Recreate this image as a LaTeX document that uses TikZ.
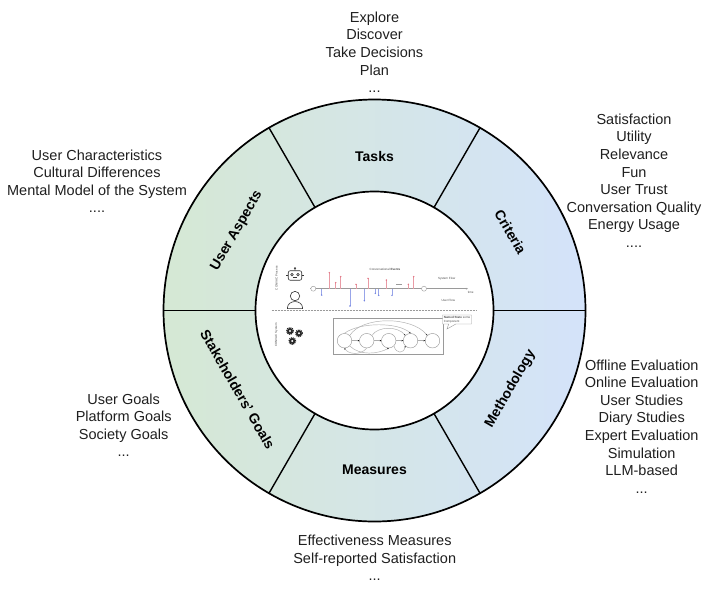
\documentclass[tikz,border=0pt]{standalone}
\usepackage{fontspec}
\setmainfont{Liberation Sans}
\usepackage{tikz}
\usetikzlibrary{positioning, arrows.meta, calc, shapes.callouts}

\definecolor{ringgreen}{HTML}{D5E8D4}
\definecolor{ringblue}{HTML}{D4E3FA}
\definecolor{sysred}{HTML}{E0707F}
\definecolor{userblue}{HTML}{6C7FE0}
\definecolor{sketchgray}{HTML}{9A9A9A}

\tikzset{
	aspect/.style={font=\fontsize{14}{17}\selectfont\bfseries, align=center, inner sep=0pt},
	itemlist/.style={font=\fontsize{14.5}{17.6}\selectfont, align=center, inner sep=0pt, anchor=north, text=black!88},
	tinytext/.style={font=\fontsize{3}{3.6}\selectfont, text=black!70, inner sep=0pt},
	statenode/.style={draw=sketchgray, circle, minimum size=14.5pt, inner sep=0pt, line width=0.45pt},
	trans/.style={draw=sketchgray!80, line width=0.45pt, -{Stealth[length=1.4pt, width=1.4pt, black]}},
	icon/.style={draw=black!80, line width=0.6pt}
}

\begin{document}
\begin{tikzpicture}[x=1pt, y=-1pt]
	\useasboundingbox (0,0) rectangle (720,598);
	\coordinate (c) at (374.5,310.5);

	% ring
	\shade[left color=ringgreen, right color=ringblue] (c) circle (211pt);
	\fill[white] (c) circle (119pt);
	\draw[line width=1.7pt] (c) circle (211pt);
	\draw[line width=1.7pt] (c) circle (119pt);
	\foreach \a in {0,60,...,300}{
		\coordinate (in\a) at ($(c)+(\a:119pt)$);
		\coordinate (out\a) at ($(c)+(\a:211pt)$);
		\draw[line width=1.4pt] (in\a) -- (out\a);
	}

	\node[aspect] (tasks) at ($(c)+(90:154pt)$) {Tasks};
	\node[aspect, rotate=-60] (criteria) at ($(c)+(30:157pt)$) {Criteria};
	\node[aspect, rotate=60] (methodology) at ($(c)+(-30:157pt)$) {Methodology};
	\node[aspect] (measures) at ($(c)+(-90:159pt)$) {Measures};
	\node[aspect, rotate=-60] (goals) at ($(c)+(210:158pt)$) {Stakeholders’ Goals};
	\node[aspect, rotate=60] (useraspects) at ($(c)+(150:159pt)$) {User Aspects};

	% lists around the ring
	\node[itemlist] (tasklist) at (374.5,11.5) {Explore\\Discover\\Take Decisions\\Plan\\...};
	\node[itemlist] (criterialist) at (634,113.5) {Satisfaction\\Utility\\Relevance\\Fun\\User Trust\\Conversation Quality\\Energy Usage\\....};
	\node[itemlist] (userlist) at (97,149.3) {User Characteristics\\Cultural Differences\\Mental Model of the System\\....};
	\node[itemlist] (goallist) at (123.7,393.3) {User Goals\\Platform Goals\\Society Goals\\...};
	\node[itemlist] (methodlist) at (641.7,359.3) {Offline Evaluation\\Online Evaluation\\User Studies\\Diary Studies\\Expert Evaluation\\Simulation\\LLM-based\\...};
	\node[itemlist] (measurelist) at (374.7,535) {Effectiveness Measures\\Self-reported Satisfaction\\...};

	% process sketch in the middle
	\node[tinytext, rotate=90] (proclabel) at (276.5,278) {CONVAC Process};
	\node[tinytext, rotate=90] (syslabel) at (276.5,335) {CONVAC System};

	\node[icon, rounded corners=2pt, minimum width=13.5pt, minimum height=9.5pt, inner sep=0pt] (robot) at (295,275.5) {};
	\draw[icon] (robot.north) -- ++(0,-2.2) circle (0.7pt);
	\draw[icon] ($(robot.center)+(-3,-0.8)$) circle (1.3pt);
	\draw[icon] ($(robot.center)+(3,-0.8)$) circle (1.3pt);
	\draw[icon, line width=0.45pt] ($(robot.center)+(-2.2,2.2)$) -- ($(robot.center)+(2.2,2.2)$);
	\draw[icon] (robot.west) -- ++(-1.5,0);
	\draw[icon] (robot.east) -- ++(1.5,0);

	\node[icon, circle, minimum size=9.4pt, inner sep=0pt, below=10.5pt of robot] (userhead) {};
	\draw[icon] ($(userhead.south)+(-7.5,7.5)$) -- ++(0,-1) arc[start angle=180, end angle=0, x radius=7.5pt, y radius=6pt] -- ++(0,1) -- cycle;

	\coordinate (tstart) at (310,288.7);
	\coordinate (tend) at (468,288.7);
	\draw[sketchgray, line width=0.5pt, -{Stealth[length=2pt, width=1.6pt]}] (tstart) -- (tend);
	\node[circle, draw=sketchgray, fill=white, minimum size=5pt, inner sep=0pt, line width=0.4pt] (tbegin) at (313.3,288.7) {};
	\node[circle, draw=sketchgray, fill=white, minimum size=5pt, inner sep=0pt, line width=0.4pt] (tstop) at (424,288.7) {};
	\foreach \x/\h in {329.3/272.7, 335.7/282.7, 340.7/276.7, 356/284.3, 368/278.3, 386.3/280, 408.3/284.3, 413.7/276.7}{
		\draw[sysred!70, line width=0.5pt] (\x,288.7) -- (\x,\h);
		\fill[sysred] (\x,\h) circle (0.8pt);
	}
	\foreach \x/\h in {321.7/295, 350/306, 364.3/300.7, 375.3/293.3, 378.7/295.3, 392/295.3}{
		\draw[userblue!70, line width=0.5pt] (\x,288.7) -- (\x,\h);
		\fill[userblue] (\x,\h) circle (0.8pt);
	}
	\draw[sketchgray, line width=0.3pt] (396,284.3) -- (402,284.3);
	\node[tinytext] (events) at (385,269) {Conversational \textbf{Events}};
	\node[tinytext] (sysflow) at (446.7,278.3) {System Flow};
	\node[tinytext] (userflow) at (448.3,300) {User Flow};
	\node[tinytext] (timelabel) at (470.7,292.7) {time};

	\draw[sketchgray, line width=0.6pt, dash pattern=on 0.6pt off 0.9pt] (271.7,310.7) -- (476.7,310.7);

	% system part
	\foreach \gx/\gy in {290/331, 299/333.3, 292.3/341}{
		\draw[black!85, line width=1.3pt, dash pattern=on 1pt off 0.8pt] (\gx,\gy) circle (3.3pt);
		\fill[black!85] (\gx,\gy) circle (2.9pt);
		\fill[white] (\gx,\gy) circle (1.1pt);
	}

	\node[draw=sketchgray, line width=0.5pt, minimum width=110pt, minimum height=36pt, inner sep=0pt] (statebox) at (388.3,336.3) {};
	\foreach \i/\x in {1/344.5, 2/366.7, 3/388.7, 4/410.5, 5/432.5}
		\node[statenode] (st\i) at (\x,340.7) {};
	\draw[trans] (st1) -- (st2);
	\draw[trans] (st2) -- (st3);
	\draw[trans] (st3) -- (st4);
	\draw[trans] (st4) -- (st5);
	\draw[trans] (st1.north east) .. controls (362,316) and (412,316) .. (st5.north west);
	\draw[trans] (st1.north) .. controls (360,322) and (398,322) .. (st4.north);
	\draw[trans] (st2.north east) .. controls (378,326) and (398,326) .. (st4.north west);
	\draw[trans] (st1.south east) .. controls (360,356) and (378,354) .. (st3.south);
	\draw[trans] (st3.south east) .. controls (396,354) and (404,354) .. (st4.south west);
	\draw[trans] (st2.south) .. controls (360,356) and (348,354) .. (st1.south);

	\node[rectangle callout, draw=sketchgray, fill=white, line width=0.4pt, tinytext, align=left, inner sep=1.3pt, callout absolute pointer={(447,329)}] (note) at (457,319.5) {\textbf{Named State} some\\Component};
\end{tikzpicture}
\end{document}
